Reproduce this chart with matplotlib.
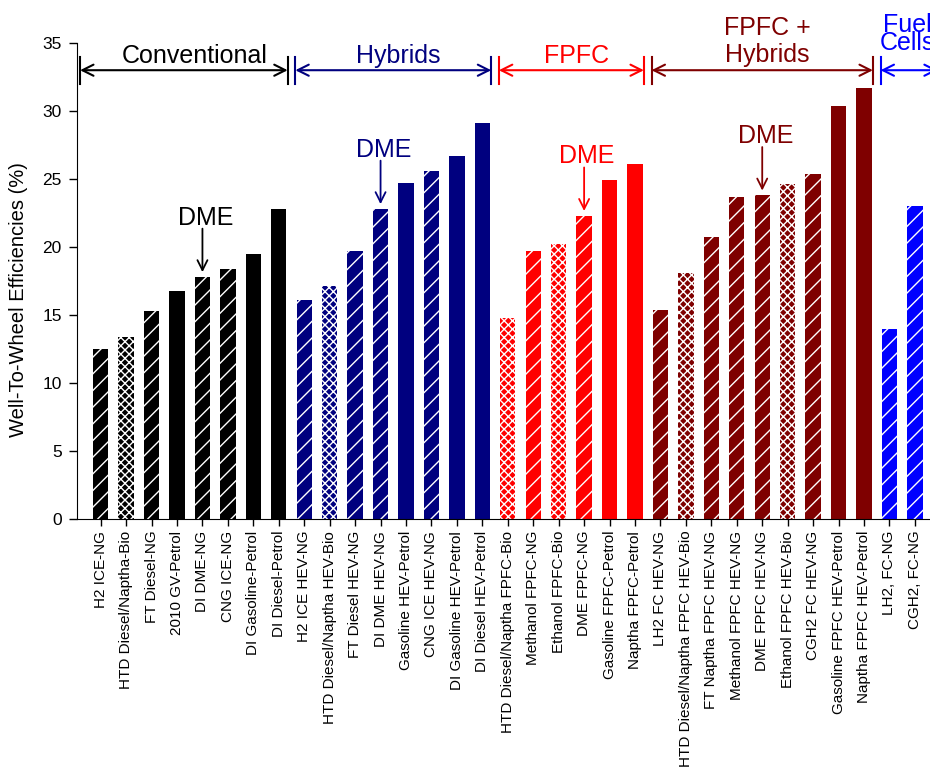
import matplotlib
matplotlib.use("Agg")
import matplotlib.pyplot as plt

plt.rcParams['font.family'] = ['Liberation Sans', 'DejaVu Sans']
plt.rcParams['hatch.linewidth'] = 1.0

# Pathway names, grouped by vehicle technology
conventional = ["H2 ICE-NG", "HTD Diesel/Naptha-Bio", "FT Diesel-NG", "2010 GV-Petrol",
                "DI DME-NG", "CNG ICE-NG", "DI Gasoline-Petrol", "DI Diesel-Petrol"]
hybrids = ["H2 ICE HEV-NG", "HTD Diesel/Naptha HEV-Bio", "FT Diesel HEV-NG", "DI DME HEV-NG",
           "Gasoline HEV-Petrol", "CNG ICE HEV-NG", "DI Gasoline HEV-Petrol", "DI Diesel HEV-Petrol"]
fpfc = ["HTD Diesel/Naptha FPFC-Bio", "Methanol FPFC-NG", "Ethanol FPFC-Bio", "DME FPFC-NG",
        "Gasoline FPFC-Petrol", "Naptha FPFC-Petrol"]
fpfc_hybrids = ["LH2 FC HEV-NG", "HTD Diesel/Naptha FPFC HEV-Bio", "FT Naptha FPFC HEV-NG",
                "Methanol FPFC HEV-NG", "DME FPFC HEV-NG", "Ethanol FPFC HEV-Bio",
                "CGH2 FC HEV-NG", "Gasoline FPFC HEV-Petrol", "Naptha FPFC HEV-Petrol"]
fuel_cells = ["LH2, FC-NG", "CGH2, FC-NG"]

# Well-to-wheel efficiencies (%)
conventional_eff = [12.5, 13.4, 15.3, 16.8, 17.8, 18.4, 19.5, 22.8]
hybrids_eff = [16.1, 17.1, 19.7, 22.8, 24.7, 25.6, 26.7, 29.1]
fpfc_eff = [14.8, 19.7, 20.2, 22.3, 24.9, 26.1]
fpfc_hybrids_eff = [15.4, 18.1, 20.7, 23.7, 23.8, 24.6, 25.4, 30.4, 31.7]
fuel_cells_eff = [14.0, 23.0]

# fuel source -> fill: '/' hatched, 'x' cross-hatched, '' solid
conventional_fill = ['/', 'x', '/', '', '/', '/', '', '']
hybrids_fill = ['/', 'x', '/', '/', '', '/', '', '']
fpfc_fill = ['x', '/', 'x', '/', '', '']
fpfc_hybrids_fill = ['/', 'x', '/', '/', '/', 'x', '/', '', '']
fuel_cells_fill = ['/', '/']

group_names = ["Conventional", "Hybrids", "FPFC", "FPFC +\nHybrids", "Fuel\nCells"]
group_colors = ["#000000", "#00007f", "#ff0000", "#7f0000", "#0000ff"]
dme_index = [4, 3, 3, 4, None]   # position of the DME pathway inside each group

groups = [
    (conventional, conventional_eff, conventional_fill),
    (hybrids, hybrids_eff, hybrids_fill),
    (fpfc, fpfc_eff, fpfc_fill),
    (fpfc_hybrids, fpfc_hybrids_eff, fpfc_hybrids_fill),
    (fuel_cells, fuel_cells_eff, fuel_cells_fill),
]

hatch_map = {'/': '//', 'x': 'xxxx', '': None}

fig = plt.figure(figsize=(9.3, 7.68), dpi=100)
# axes run past the right edge, the last group is cut off by the page
ax = fig.add_axes([0.0828, 0.3242, 0.942, 0.6198])

labels = []
start = 0
for (names, effs, fills), name, color, dme in zip(groups, group_names, group_colors, dme_index):
    xs = list(range(start, start + len(names)))
    for x, h, f in zip(xs, effs, fills):
        ax.bar(x, h, width=0.6, color=color, edgecolor='white', linewidth=0,
               hatch=hatch_map[f])
    labels += names

    # bracket spanning the group
    gap = 0.15
    left = xs[0] - 0.5 + gap if start > 0 else -0.81
    right = xs[-1] + 0.5 - gap if name != "Fuel\nCells" else 32.9
    ax.annotate('', xy=(right, 33), xytext=(left, 33),
                arrowprops=dict(arrowstyle='<->', color=color, lw=1.5,
                                shrinkA=0, shrinkB=0, mutation_scale=20),
                annotation_clip=False)
    for xe in (left, right):
        ax.plot([xe, xe], [32, 34], color=color, lw=1.5, clip_on=False)

    cx = (xs[0] + xs[-1]) / 2 + 0.2
    if name.startswith("Fuel"):
        ax.text(cx, 34.15, name, color=color, fontsize=18, ha='center', va='bottom',
                multialignment='center', linespacing=0.66, clip_on=False)
    elif "\n" in name:
        ax.text(cx, 33.25, name, color=color, fontsize=18, ha='center', va='bottom',
                multialignment='center', linespacing=1.15, clip_on=False)
    else:
        ax.text(cx, 33.55, name, color=color, fontsize=18, ha='center',
                va='baseline', clip_on=False)

    # DME pointer
    if dme is not None:
        xd = xs[dme]
        hd = effs[dme]
        ax.annotate('', xy=(xd, hd + 0.35), xytext=(xd, hd + 3.55),
                    arrowprops=dict(arrowstyle='->', color=color, lw=1.3,
                                    shrinkA=0, shrinkB=0, mutation_scale=18))
        ax.text(xd + 0.12, hd + 3.85, "DME", color=color, fontsize=18,
                ha='center', va='baseline')

    start += len(names)

ax.set_xlim(-0.93, 33.5)
ax.set_ylim(0, 35)
ax.set_yticks(range(0, 36, 5))
ax.set_xticks(range(len(labels)))
ax.set_xticklabels(labels, rotation=90, fontsize=11)
ax.tick_params(axis='y', labelsize=12.5, length=6, width=1, pad=5)
ax.tick_params(axis='x', length=5, width=1)
ax.spines['top'].set_visible(False)
ax.spines['right'].set_visible(False)
ax.set_ylabel("Well-To-Wheel Efficiencies (%)", fontsize=14.5)
ax.yaxis.set_label_coords(-0.056, 0.46)

fig.savefig("out.png", dpi=100)
